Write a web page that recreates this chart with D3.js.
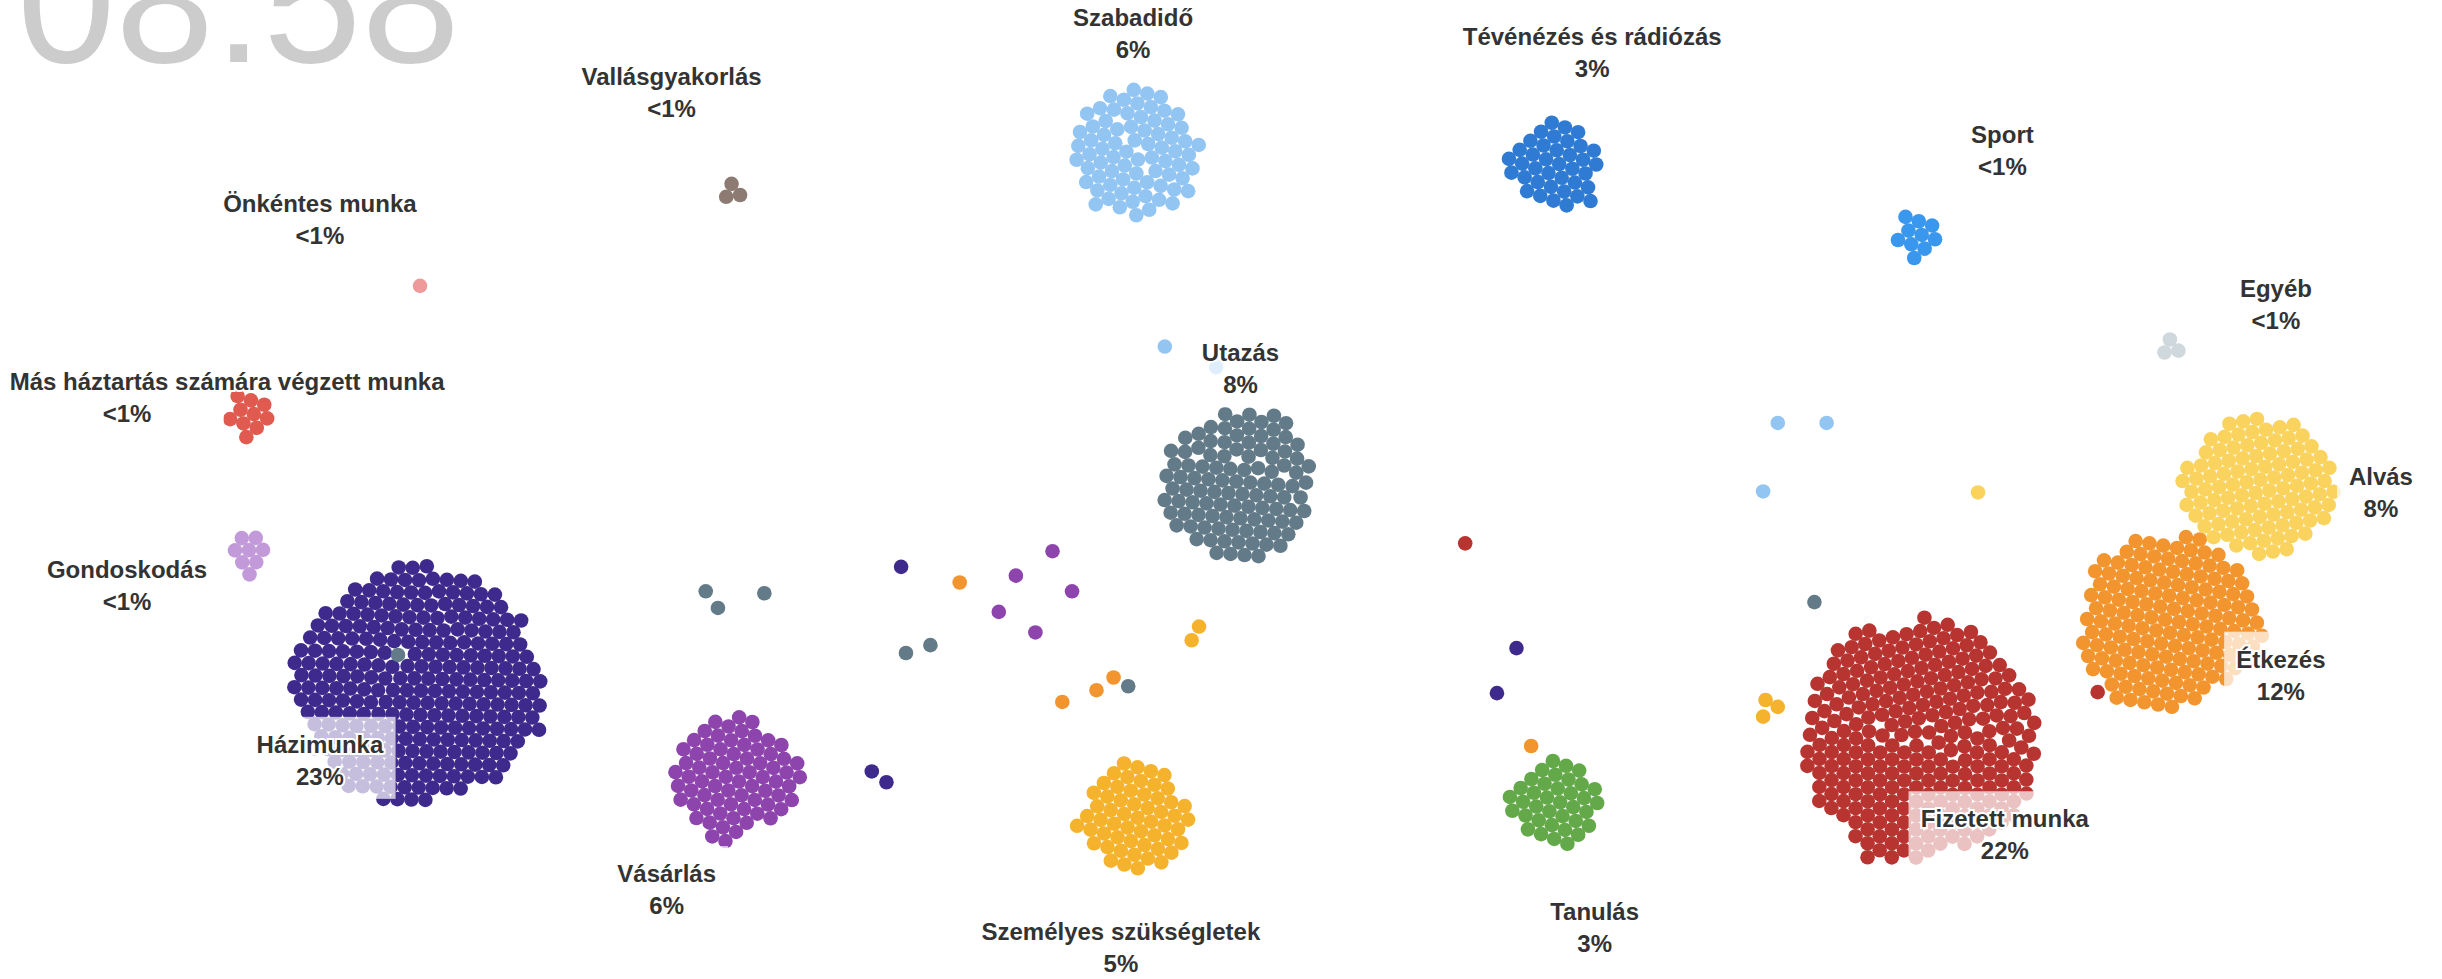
<!DOCTYPE html>
<html>
<head>
<meta charset="utf-8">
<script src="https://cdn.jsdelivr.net/npm/d3@7"></script>
<style>
  body { margin: 0; background: #fff; overflow: hidden; }
  svg { display: block; }
  .label {
    font-family: "Helvetica Neue", Helvetica, Arial, "Liberation Sans", sans-serif;
    font-weight: bold;
    font-size: 24px;
    fill: #333;
    text-anchor: middle;
    stroke: #fff;
    stroke-width: 4px;
    paint-order: stroke;
  }
  .clock {
    font-family: "Helvetica Neue", Helvetica, Arial, "Liberation Sans", sans-serif;
    font-size: 177px;
    fill: #ccc;
  }
</style>
</head>
<body>
<script>
// the data: activities, their share and how many dots sit in each group
var activities = ["Házimunka", "Fizetett munka", "Étkezés", "Alvás", "Utazás",
  "Szabadidő", "Tévénézés és rádiózás", "Sport", "Egyéb", "Vallásgyakorlás",
  "Önkéntes munka", "Más háztartás számára végzett munka", "Gondoskodás",
  "Vásárlás", "Személyes szükségletek", "Tanulás"];
var shares = ["23%", "22%", "12%", "8%", "8%", "6%", "3%", "<1%", "<1%", "<1%",
  "<1%", "<1%", "<1%", "6%", "5%", "3%"];
var counts = [270, 258, 148, 100, 104, 74, 38, 10, 3, 3, 1, 10, 8, 72, 56, 37];
var colors = ["#3e2a8c", "#b83430", "#f2952e", "#f9d35e", "#637b88", "#93c5f3",
  "#2f7bd4", "#3a97ee", "#cfd8dc", "#8d7b73", "#ef9a9a", "#e05a4f", "#c39ad9",
  "#8e44ad", "#f5b22d", "#63a94a"];
var clock = "08:58";

// layout grid (0-100 each way): where every group gathers and where its label goes
var fociX = [17.2, 78.6, 88.8, 92.5, 50.7, 46.5, 63.7, 78.5, 88.9, 30.0, 17.2, 10.2, 10.2, 30.1, 46.5, 63.7];
var fociY = [69.9, 75.6, 63.5, 49.7, 49.6, 15.6, 16.9, 24.1, 35.5, 19.6, 29.2, 42.4, 56.5, 79.4, 83.5, 82.0];
var labelX = [13.1, 82.1, 93.4, 97.5, 50.8, 46.4, 65.2, 82.0, 93.2, 27.5, 13.1, 5.2, 5.2, 27.3, 45.9, 65.3];
var labelY = [76.9, 84.5, 68.2, 49.5, 36.9, 2.7, 4.6, 14.6, 30.3, 8.7, 21.7, 39.8, 59.0, 90.1, 96.0, 94.0];
// long names run out of their label box to the right
var nameShift = [0, 0, 0, 0, 0, 0, 0, 0, 0, 0, 0, 4.1, 0, 0, 0, 0];

// dots that are on their way between two activities: [activity, x, y]
var strays = [
  [5, 47.7, 35.4], [5, 49.8, 37.5], [5, 72.8, 43.2], [5, 74.8, 43.2], [5, 72.2, 50.2],
  [3, 81.0, 50.3],
  [1, 60.0, 55.5], [1, 85.9, 70.7],
  [4, 74.3, 61.5], [4, 28.9, 60.4], [4, 29.4, 62.1], [4, 31.3, 60.6], [4, 37.1, 66.7],
  [4, 38.1, 65.9], [4, 46.2, 70.1], [4, 16.3, 66.9],
  [0, 36.9, 57.9], [0, 62.1, 66.2], [0, 61.3, 70.8], [0, 35.7, 78.8], [0, 36.3, 79.9],
  [2, 39.3, 59.5], [2, 43.5, 71.7], [2, 44.9, 70.5], [2, 45.6, 69.2], [2, 62.7, 76.2],
  [13, 43.1, 56.3], [13, 41.6, 58.8], [13, 43.9, 60.4], [13, 40.9, 62.5], [13, 42.4, 64.6],
  [14, 49.1, 64.0], [14, 48.8, 65.4], [14, 72.3, 71.5], [14, 72.8, 72.2], [14, 72.2, 73.2]
];

var width = 2442;
var height = 979;
var dotRadius = 7.3;

var x = d3.scaleLinear().domain([0, 100]).range([0, width]);
var y = d3.scaleLinear().domain([0, 100]).range([0, height]);

var svg = d3.select("body")
  .append("svg")
  .attr("width", width)
  .attr("height", height);

// the clock, cut off at the top like in the original
svg.append("text")
  .attr("class", "clock")
  .attr("x", 17)
  .attr("y", 62)
  .text(clock);

// build the nodes, each group starts as a sunflower disc round its focus
var nodes = [];
var golden = Math.PI * (3 - Math.sqrt(5));
activities.forEach(function(a, i) {
  for (var k = 0; k < counts[i]; k++) {
    var r = 7.1 * Math.sqrt(k + 0.5);
    nodes.push({
      act: i,
      x: x(fociX[i]) + r * Math.cos(k * golden),
      y: y(fociY[i]) + r * Math.sin(k * golden)
    });
  }
});
strays.forEach(function(s) {
  nodes.push({ act: s[0], fx: x(s[1]), fy: y(s[2]), x: x(s[1]), y: y(s[2]) });
});

var sim = d3.forceSimulation(nodes)
  .force("x", d3.forceX(function(d) { return x(fociX[d.act]); }).strength(0.09))
  .force("y", d3.forceY(function(d) { return y(fociY[d.act]); }).strength(0.09))
  .force("collide", d3.forceCollide(7).iterations(3))
  .stop();

for (var t = 0; t < 300; t++) sim.tick();

svg.append("g")
  .selectAll("circle")
  .data(nodes)
  .enter()
  .append("circle")
  .attr("cx", function(d) { return d.x; })
  .attr("cy", function(d) { return d.y; })
  .attr("r", dotRadius)
  .attr("fill", function(d) { return colors[d.act]; });

// labels with a see-through white box behind them
var labels = svg.append("g")
  .selectAll("g")
  .data(activities)
  .enter()
  .append("g");

labels.append("text")
  .attr("class", "label")
  .attr("x", function(d, i) { return x(labelX[i] + nameShift[i]); })
  .attr("y", function(d, i) { return y(labelY[i]); })
  .text(function(d) { return d; });

labels.append("text")
  .attr("class", "label")
  .attr("x", function(d, i) { return x(labelX[i]); })
  .attr("y", function(d, i) { return y(labelY[i]) + 32; })
  .text(function(d, i) { return shares[i]; });

labels.each(function(d, i) {
  var g = d3.select(this);
  var w = Math.min(this.getBBox().width, 170) + 24;
  g.insert("rect", ":first-child")
    .attr("x", x(labelX[i]) - w / 2)
    .attr("y", y(labelY[i]) - 36)
    .attr("width", w)
    .attr("height", 82)
    .attr("fill", "#fff")
    .attr("fill-opacity", 0.7);
});
</script>
</body>
</html>
